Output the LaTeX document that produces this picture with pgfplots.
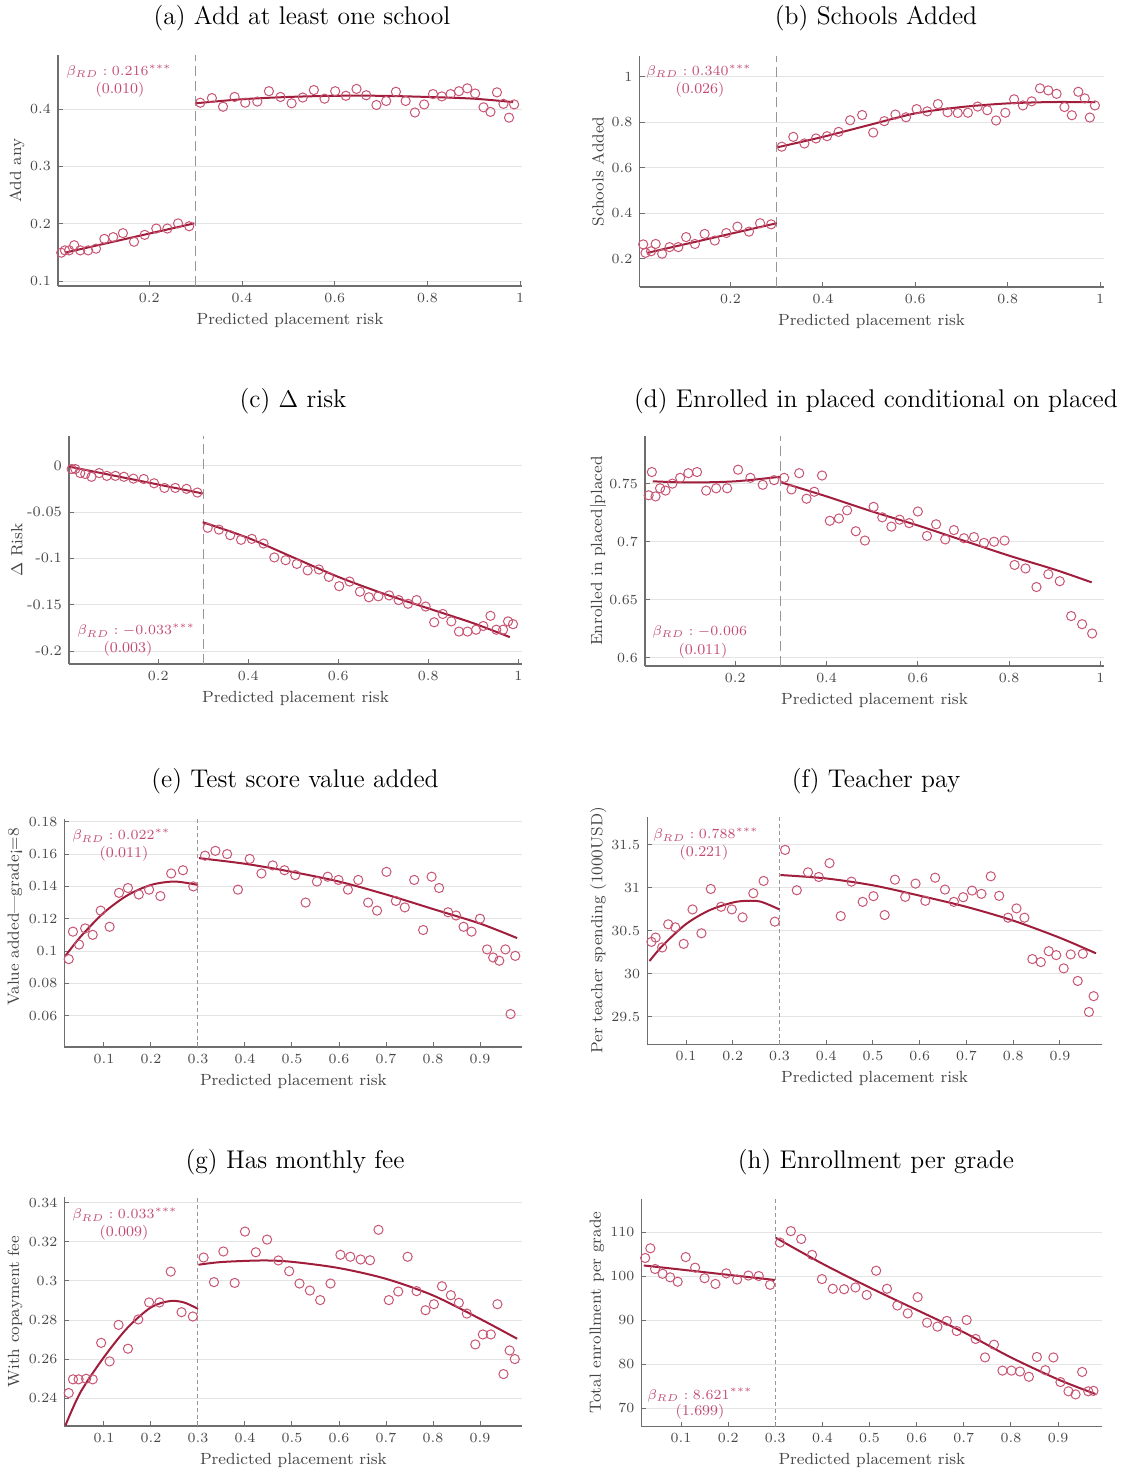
\documentclass[border=0pt]{standalone}
\usepackage{pgfplots}
\pgfplotsset{compat=1.18}
\definecolor{mk}{RGB}{200,85,115}
\definecolor{fitc}{RGB}{160,30,60}
\definecolor{ann}{RGB}{195,75,115}
\definecolor{axgray}{RGB}{110,110,110}
\definecolor{gridgray}{RGB}{228,228,228}
\definecolor{txtgray}{RGB}{70,70,70}
\definecolor{dashgray}{RGB}{150,150,150}
\pgfplotsset{
  rdbase/.style={
    scale only axis, anchor=south west,
    axis x line*=bottom, axis y line*=left,
    every outer x axis line/.append style={-},
    every outer y axis line/.append style={-},
    axis line style={draw=axgray, line width=0.6pt, -},
    tick align=inside, major tick length=2.5pt,
    tick style={draw=axgray, line width=0.5pt},
    ymajorgrids, grid style={draw=gridgray, line width=0.5pt},
    tick label style={font=\fontsize{7.2}{8}\selectfont, text=txtgray},
    label style={font=\fontsize{8.1}{9}\selectfont, text=txtgray},
    xlabel={Predicted placement risk},
    xlabel style={at={(axis description cs:0.5,-0.15)}, anchor=center},
    scaled ticks=false,
    /pgf/number format/fixed, /pgf/number format/precision=2,
    clip=false,
  },
  pts/.style={only marks, mark=o, mark size=2.3pt, color=mk, mark options={line width=0.5pt, draw=mk, fill=none}},
  fitl/.style={no marks, draw=fitc, line width=1pt, smooth},
  cutA/.style={no marks, draw=dashgray, line width=0.5pt, dash pattern=on 5pt off 2.5pt},
  cutB/.style={no marks, draw=dashgray, line width=0.5pt, dash pattern=on 2pt off 1.5pt},
}
\newcommand{\tfont}{\fontsize{12.8}{15}\selectfont}
\newcommand{\afont}{\fontsize{7.5}{9}\selectfont}
\begin{document}
\begin{tikzpicture}
\useasboundingbox (0,0) rectangle (567.5pt,-736.5pt);

% (a)
\begin{axis}[rdbase, at={(29pt,-143pt)}, width=232pt, height=115.5pt,
  xmin=0.003, xmax=1.004, ymin=0.092, ymax=0.494,
  xtick={0.2,0.4,0.6,0.8,1}, ytick={0.1,0.2,0.3,0.4},
  ylabel={Add any}, ylabel style={at={(axis description cs:-0.0884,0.5)}, anchor=center}]
\addplot[cutA] coordinates {(0.3,0.092)(0.3,0.494)};
\addplot[pts] coordinates {(0.010,0.150)(0.018,0.154)(0.027,0.154)(0.038,0.163)(0.051,0.154)(0.068,0.154)(0.085,0.157)(0.103,0.174)(0.122,0.177)(0.143,0.184)(0.167,0.169)(0.190,0.181)(0.215,0.192)(0.239,0.192)(0.262,0.201)(0.286,0.196)};
\addplot[pts] coordinates {(0.310,0.411)(0.335,0.419)(0.359,0.404)(0.384,0.421)(0.407,0.411)(0.433,0.413)(0.458,0.431)(0.483,0.421)(0.507,0.410)(0.531,0.420)(0.555,0.433)(0.578,0.418)(0.601,0.431)(0.624,0.423)(0.647,0.435)(0.668,0.424)(0.690,0.407)(0.711,0.414)(0.732,0.430)(0.753,0.414)(0.773,0.394)(0.793,0.408)(0.812,0.426)(0.831,0.422)(0.850,0.426)(0.868,0.431)(0.886,0.436)(0.903,0.427)(0.921,0.403)(0.936,0.395)(0.950,0.429)(0.964,0.409)(0.976,0.385)(0.987,0.408)};
\addplot[fitl] coordinates {(0.018,0.150)(0.297,0.201)};
\addplot[fitl] coordinates {(0.300,0.410)(0.4,0.417)(0.5,0.421)(0.6,0.423)(0.7,0.423)(0.8,0.421)(0.9,0.418)(0.985,0.412)};
\end{axis}

% (b)
\begin{axis}[rdbase, at={(319.75pt,-143.5pt)}, width=232.1pt, height=115.5pt,
  xmin=0.003, xmax=1.008, ymin=0.076, ymax=1.09,
  xtick={0.2,0.4,0.6,0.8,1}, ytick={0.2,0.4,0.6,0.8,1},
  ylabel={Schools Added}, ylabel style={at={(axis description cs:-0.0894,0.5)}, anchor=center}]
\addplot[cutA] coordinates {(0.3,0.076)(0.3,1.09)};
\addplot[pts] coordinates {(0.011,0.263)(0.016,0.226)(0.028,0.233)(0.038,0.265)(0.052,0.222)(0.068,0.251)(0.087,0.251)(0.104,0.295)(0.123,0.265)(0.144,0.309)(0.166,0.280)(0.191,0.313)(0.215,0.341)(0.240,0.319)(0.264,0.356)(0.288,0.351)};
\addplot[pts] coordinates {(0.311,0.692)(0.336,0.735)(0.360,0.706)(0.385,0.728)(0.409,0.738)(0.434,0.757)(0.459,0.808)(0.485,0.831)(0.509,0.754)(0.533,0.804)(0.557,0.833)(0.580,0.821)(0.603,0.857)(0.626,0.847)(0.649,0.879)(0.670,0.843)(0.692,0.840)(0.714,0.841)(0.735,0.868)(0.756,0.852)(0.775,0.807)(0.795,0.841)(0.814,0.900)(0.833,0.873)(0.852,0.891)(0.870,0.948)(0.888,0.939)(0.906,0.924)(0.923,0.866)(0.939,0.830)(0.953,0.933)(0.967,0.904)(0.978,0.820)(0.989,0.873)};
\addplot[fitl] coordinates {(0.020,0.226)(0.300,0.356)};
\addplot[fitl] coordinates {(0.303,0.690)(0.4,0.735)(0.5,0.787)(0.6,0.838)(0.7,0.866)(0.8,0.882)(0.9,0.888)(0.99,0.887)};
\end{axis}

% (c)
\begin{axis}[rdbase, at={(34.5pt,-332pt)}, width=226.5pt, height=114pt,
  xmin=0.002, xmax=1.008, ymin=-0.214, ymax=0.032,
  xtick={0.2,0.4,0.6,0.8,1}, ytick={-0.2,-0.15,-0.1,-0.05,0},
  yticklabels={-0.2,-0.15,-0.1,-0.05,0},
  ylabel={$\Delta$ Risk}, ylabel style={at={(axis description cs:-0.1148,0.5)}, anchor=center}]
\addplot[cutA] coordinates {(0.3,-0.214)(0.3,0.032)};
\addplot[pts] coordinates {(0.008,-0.0036)(0.016,-0.0036)(0.027,-0.008)(0.038,-0.009)(0.052,-0.012)(0.069,-0.008)(0.086,-0.011)(0.105,-0.011)(0.124,-0.012)(0.145,-0.014)(0.168,-0.0144)(0.191,-0.019)(0.214,-0.024)(0.238,-0.024)(0.263,-0.025)(0.287,-0.029)};
\addplot[pts] coordinates {(0.310,-0.067)(0.335,-0.069)(0.360,-0.075)(0.384,-0.080)(0.408,-0.079)(0.434,-0.084)(0.458,-0.099)(0.483,-0.102)(0.508,-0.106)(0.532,-0.113)(0.557,-0.112)(0.579,-0.120)(0.602,-0.130)(0.625,-0.125)(0.648,-0.136)(0.668,-0.142)(0.689,-0.141)(0.713,-0.140)(0.734,-0.145)(0.755,-0.149)(0.774,-0.145)(0.794,-0.152)(0.813,-0.169)(0.832,-0.160)(0.851,-0.168)(0.868,-0.179)(0.887,-0.179)(0.906,-0.177)(0.922,-0.173)(0.938,-0.162)(0.951,-0.177)(0.966,-0.177)(0.977,-0.168)(0.988,-0.171)};
\addplot[fitl] coordinates {(0.002,-0.001)(0.299,-0.030)};
\addplot[fitl] coordinates {(0.299,-0.061)(0.4,-0.078)(0.5,-0.099)(0.6,-0.120)(0.7,-0.138)(0.8,-0.154)(0.9,-0.170)(0.981,-0.185)};
\end{axis}

% (d)
\begin{axis}[rdbase, at={(322.5pt,-333pt)}, width=229.5pt, height=115pt,
  xmin=0.002, xmax=1.008, ymin=0.593, ymax=0.791,
  xtick={0.2,0.4,0.6,0.8,1}, ytick={0.6,0.65,0.7,0.75},
  ylabel={Enrolled in placed|placed}, ylabel style={at={(axis description cs:-0.1024,0.5)}, anchor=center}]
\addplot[cutA] coordinates {(0.3,0.593)(0.3,0.791)};
\addplot[pts] coordinates {(0.010,0.740)(0.017,0.760)(0.025,0.739)(0.035,0.746)(0.047,0.744)(0.062,0.750)(0.079,0.755)(0.097,0.759)(0.116,0.760)(0.136,0.744)(0.158,0.746)(0.182,0.746)(0.206,0.762)(0.233,0.755)(0.260,0.749)(0.285,0.753)};
\addplot[pts] coordinates {(0.307,0.755)(0.323,0.745)(0.340,0.759)(0.356,0.737)(0.373,0.743)(0.390,0.757)(0.407,0.718)(0.427,0.720)(0.445,0.727)(0.464,0.709)(0.484,0.701)(0.503,0.730)(0.522,0.721)(0.542,0.713)(0.560,0.719)(0.581,0.716)(0.600,0.726)(0.620,0.705)(0.640,0.715)(0.660,0.702)(0.679,0.710)(0.701,0.703)(0.723,0.704)(0.745,0.699)(0.767,0.700)(0.790,0.701)(0.812,0.680)(0.836,0.677)(0.860,0.661)(0.886,0.672)(0.911,0.666)(0.936,0.636)(0.960,0.629)(0.982,0.621)};
\addplot[fitl] coordinates {(0.019,0.752)(0.1,0.751)(0.2,0.752)(0.3,0.756)};
\addplot[fitl] coordinates {(0.301,0.751)(0.4,0.739)(0.5,0.726)(0.6,0.714)(0.7,0.701)(0.8,0.688)(0.9,0.676)(0.981,0.665)};
\end{axis}

% (e)
\begin{axis}[rdbase, at={(32.25pt,-523.5pt)}, width=228.9pt, height=114pt,
  xmin=0.016, xmax=0.99, ymin=0.0406, ymax=0.1817,
  xtick={0.1,0.2,...,0.9}, ytick={0.06,0.08,0.1,0.12,0.14,0.16,0.18},
  ylabel={Value added---grade\textexclamdown=8}, ylabel style={at={(axis description cs:-0.1082,0.57)}, anchor=center}]
\addplot[cutB] coordinates {(0.3,0.0406)(0.3,0.1817)};
\addplot[pts] coordinates {(0.025,0.095)(0.034,0.112)(0.047,0.104)(0.060,0.114)(0.076,0.110)(0.093,0.125)(0.112,0.115)(0.132,0.136)(0.151,0.139)(0.174,0.135)(0.196,0.138)(0.220,0.134)(0.243,0.148)(0.268,0.150)(0.290,0.140)};
\addplot[pts] coordinates {(0.315,0.159)(0.337,0.162)(0.362,0.160)(0.385,0.138)(0.410,0.157)(0.435,0.148)(0.459,0.153)(0.484,0.150)(0.507,0.147)(0.529,0.130)(0.553,0.143)(0.576,0.146)(0.599,0.144)(0.619,0.138)(0.641,0.144)(0.662,0.130)(0.681,0.125)(0.701,0.149)(0.721,0.131)(0.740,0.127)(0.760,0.144)(0.779,0.113)(0.797,0.146)(0.813,0.139)(0.832,0.124)(0.849,0.122)(0.865,0.115)(0.882,0.112)(0.900,0.120)(0.915,0.101)(0.928,0.096)(0.941,0.094)(0.954,0.101)(0.965,0.061)(0.975,0.097)};
\addplot[fitl] coordinates {(0.018,0.097)(0.05,0.1088)(0.1,0.1238)(0.15,0.1345)(0.2,0.1409)(0.25,0.143)(0.3,0.1409)};
\addplot[fitl] coordinates {(0.302,0.1575)(0.4,0.154)(0.5,0.149)(0.6,0.143)(0.7,0.135)(0.8,0.126)(0.9,0.117)(0.979,0.108)};
\end{axis}

% (f)
\begin{axis}[rdbase, at={(323.6pt,-522.25pt)}, width=227.4pt, height=114pt,
  xmin=0.017, xmax=0.99, ymin=29.18, ymax=31.83,
  xtick={0.1,0.2,...,0.9}, ytick={29.5,30,30.5,31,31.5},
  ylabel={Per teacher spending (1000USD)}, ylabel style={at={(axis description cs:-0.1077,0.5)}, anchor=center}]
\addplot[cutB] coordinates {(0.3,29.18)(0.3,31.83)};
\addplot[pts] coordinates {(0.026,30.373)(0.035,30.423)(0.049,30.308)(0.062,30.577)(0.077,30.542)(0.095,30.350)(0.114,30.750)(0.133,30.473)(0.153,30.988)(0.175,30.781)(0.198,30.750)(0.221,30.658)(0.244,30.938)(0.266,31.081)(0.290,30.608)};
\addplot[pts] coordinates {(0.312,31.442)(0.337,30.973)(0.361,31.181)(0.384,31.127)(0.407,31.288)(0.431,30.673)(0.454,31.073)(0.478,30.838)(0.501,30.904)(0.525,30.685)(0.547,31.096)(0.569,30.896)(0.591,31.050)(0.612,30.850)(0.633,31.119)(0.654,30.981)(0.673,30.838)(0.693,30.892)(0.712,30.969)(0.732,30.931)(0.752,31.135)(0.770,30.908)(0.789,30.654)(0.807,30.762)(0.824,30.654)(0.841,30.173)(0.859,30.138)(0.876,30.265)(0.892,30.219)(0.908,30.065)(0.923,30.227)(0.938,29.919)(0.949,30.235)(0.962,29.558)(0.972,29.742)};
\addplot[fitl] coordinates {(0.022,30.15)(0.05,30.33)(0.1,30.58)(0.15,30.74)(0.2,30.83)(0.23,30.85)(0.26,30.84)(0.3,30.75)};
\addplot[fitl] coordinates {(0.302,31.15)(0.4,31.11)(0.5,31.03)(0.6,30.91)(0.7,30.78)(0.8,30.62)(0.9,30.42)(0.977,30.24)};
\end{axis}

% (g)
\begin{axis}[rdbase, at={(32.25pt,-713pt)}, width=228.9pt, height=114.5pt,
  xmin=0.016, xmax=0.99, ymin=0.2257, ymax=0.343,
  xtick={0.1,0.2,...,0.9}, ytick={0.24,0.26,0.28,0.3,0.32,0.34},
  ylabel={With copayment fee}, ylabel style={at={(axis description cs:-0.1082,0.5)}, anchor=center}]
\addplot[cutB] coordinates {(0.3,0.2257)(0.3,0.343)};
\addplot[pts] coordinates {(0.025,0.2426)(0.034,0.2496)(0.046,0.2496)(0.062,0.2499)(0.076,0.2496)(0.094,0.2683)(0.112,0.2588)(0.131,0.2775)(0.151,0.2653)(0.173,0.2803)(0.196,0.2890)(0.218,0.2890)(0.242,0.3048)(0.265,0.2840)(0.289,0.2818)};
\addplot[pts] coordinates {(0.312,0.312)(0.334,0.2994)(0.354,0.3151)(0.378,0.2990)(0.400,0.3253)(0.423,0.3147)(0.447,0.3212)(0.471,0.3105)(0.494,0.3050)(0.516,0.2987)(0.538,0.2951)(0.560,0.2902)(0.582,0.2987)(0.603,0.3134)(0.624,0.3124)(0.646,0.3110)(0.666,0.3106)(0.684,0.3262)(0.706,0.2902)(0.726,0.2946)(0.746,0.3124)(0.765,0.2948)(0.784,0.2850)(0.802,0.2881)(0.819,0.2973)(0.838,0.2927)(0.855,0.2888)(0.872,0.2833)(0.890,0.2675)(0.906,0.2726)(0.923,0.2726)(0.937,0.2881)(0.950,0.2523)(0.963,0.2644)(0.974,0.2600)};
\addplot[fitl] coordinates {(0.018,0.226)(0.05,0.243)(0.1,0.261)(0.15,0.276)(0.2,0.2865)(0.24,0.2897)(0.27,0.2890)(0.3,0.2857)};
\addplot[fitl] coordinates {(0.301,0.3083)(0.35,0.3097)(0.437,0.3105)(0.5,0.3098)(0.6,0.3066)(0.7,0.3011)(0.8,0.2926)(0.9,0.2806)(0.979,0.2704)};
\end{axis}

% (h)
\begin{axis}[rdbase, at={(320.7pt,-713.25pt)}, width=230.5pt, height=113.75pt,
  xmin=0.016, xmax=0.994, ymin=65.8, ymax=117.5,
  xtick={0.1,0.2,...,0.9}, ytick={70,80,90,100,110},
  ylabel={Total enrollment per grade}, ylabel style={at={(axis description cs:-0.0963,0.5)}, anchor=center}]
\addplot[cutB] coordinates {(0.3,65.8)(0.3,117.5)};
\addplot[pts] coordinates {(0.024,104.1)(0.035,106.3)(0.045,101.6)(0.061,100.5)(0.077,99.7)(0.093,98.7)(0.110,104.3)(0.130,101.9)(0.150,99.5)(0.173,98.2)(0.196,100.6)(0.219,99.2)(0.243,100.1)(0.265,100.0)(0.289,98.0)};
\addplot[pts] coordinates {(0.310,107.6)(0.333,110.2)(0.355,108.4)(0.378,104.8)(0.399,99.3)(0.422,97.1)(0.446,97.0)(0.470,97.4)(0.494,95.7)(0.514,101.2)(0.537,97.1)(0.559,93.3)(0.581,91.5)(0.602,95.2)(0.622,89.4)(0.644,88.5)(0.664,89.8)(0.685,87.5)(0.706,90.0)(0.725,85.7)(0.745,81.5)(0.764,84.4)(0.782,78.5)(0.801,78.5)(0.819,78.3)(0.838,77.1)(0.855,81.6)(0.873,78.6)(0.890,81.5)(0.905,75.9)(0.922,73.8)(0.937,73.1)(0.951,78.2)(0.964,73.8)(0.975,73.9)};
\addplot[fitl] coordinates {(0.021,102.4)(0.299,99.1)};
\addplot[fitl] coordinates {(0.301,108.7)(0.4,102.8)(0.5,97.4)(0.6,92.3)(0.7,87.2)(0.8,81.5)(0.9,76.5)(0.979,73.2)};
\end{axis}

\begin{scope}[x=0.5pt,y=-0.5pt]
\node[font=\tfont] at (302,18) {(a) Add at least one school};
\node[font=\tfont] at (876,18) {(b) Schools Added};
\node[font=\tfont] at (293,401) {(c) $\Delta$ risk};
\node[font=\tfont] at (876,401) {(d) Enrolled in placed conditional on placed};
\node[font=\tfont] at (295,781) {(e) Test score value added};
\node[font=\tfont] at (876,781) {(f) Teacher pay};
\node[font=\tfont] at (295,1162) {(g) Has monthly fee};
\node[font=\tfont] at (876,1162) {(h) Enrollment per grade};
\begin{scope}[every node/.style={font=\afont, text=ann, inner sep=0pt}]
\node[anchor=west] at (66,72) {$\beta_{RD}: 0.216^{***}$};
\node at (120,90) {(0.010)};
\node[anchor=west] at (646,72) {$\beta_{RD}: 0.340^{***}$};
\node at (700,90) {(0.026)};
\node[anchor=west] at (77,631) {$\beta_{RD}: -0.033^{***}$};
\node at (128,649) {(0.003)};
\node[anchor=west] at (652,632) {$\beta_{RD}: -0.006$};
\node at (703,651) {(0.011)};
\node[anchor=west] at (72,836) {$\beta_{RD}: 0.022^{**}$};
\node at (124,854) {(0.011)};
\node[anchor=west] at (653,835) {$\beta_{RD}: 0.788^{***}$};
\node at (704,853) {(0.221)};
\node[anchor=west] at (72,1215) {$\beta_{RD}: 0.033^{***}$};
\node at (124,1233) {(0.009)};
\node[anchor=west] at (647,1395) {$\beta_{RD}: 8.621^{***}$};
\node at (700,1412) {(1.699)};
\end{scope}
\end{scope}
\end{tikzpicture}
\end{document}
